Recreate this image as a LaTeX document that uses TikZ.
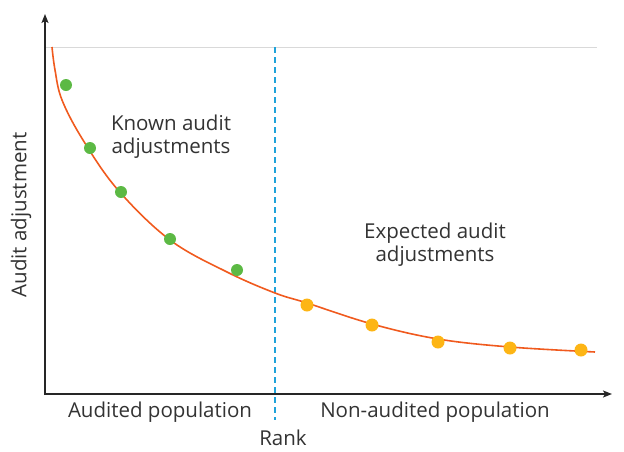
\documentclass[tikz,border=0pt]{standalone}
\usepackage{fontspec}
\setmainfont{Open Sans}
\usepackage{tikz}
\usepackage{xcolor}
\usetikzlibrary{arrows.meta}

\definecolor{txtgray}{HTML}{333333}
\definecolor{curveorange}{HTML}{F05A1E}
\definecolor{dotgreen}{HTML}{5CB944}
\definecolor{dotyellow}{HTML}{FDB515}
\definecolor{rankblue}{HTML}{1FA3DA}

\begin{document}
\begin{tikzpicture}[x=1pt,y=-1pt,
            lbl/.style={text=txtgray,font=\fontsize{20.5}{23}\selectfont,align=center,inner sep=0pt},
            axis/.style={line width=1.4pt,draw=black!85,-{Stealth[length=9pt,width=7pt,inset=2pt]}}]
            \useasboundingbox (0,0) rectangle (624,451);
            \draw[black!15,line width=1pt] (45,47) -- (597,47);
            \draw[axis] (45,395) -- (45,14);
            \draw[axis] (45,394) -- (612,394);
            \draw[rankblue,line width=1.8pt,dash pattern=on 6pt off 4pt] (275,47) -- (275,420);
            \draw[curveorange,line width=1.6pt,smooth,tension=0.6] plot coordinates {(52,47) (55,70) (62,100) (83,140) (118,190) (170,240) (227,272) (275,293) (307,303) (372,324) (438,339) (510,347) (595,352)};
            \fill[dotgreen] (66,85) circle (6);
            \fill[dotgreen] (90,148) circle (6);
            \fill[dotgreen] (121,192) circle (6);
            \fill[dotgreen] (170,239) circle (6);
            \fill[dotgreen] (237,270) circle (6);
            \fill[dotyellow] (307,305) circle (6.5);
            \fill[dotyellow] (372,325) circle (6.5);
            \fill[dotyellow] (438,342) circle (6.5);
            \fill[dotyellow] (510,348) circle (6.5);
            \fill[dotyellow] (581,350) circle (6.5);
            \node[lbl] (known) at (171,137) {Known audit\\adjustments};
            \node[lbl] (expected) at (435,245) {Expected audit\\adjustments};
            \node[lbl] (audited) at (160,412) {Audited population};
            \node[lbl] (nonaudited) at (435,412) {Non-audited population};
            \node[text=txtgray,font=\fontsize{20.5}{23}\selectfont,inner sep=0pt] (rank) at (283,438) {Rank};
            \node[lbl,rotate=90] (yaxis) at (21,215) {Audit adjustment};
        \end{tikzpicture}
\end{document}
